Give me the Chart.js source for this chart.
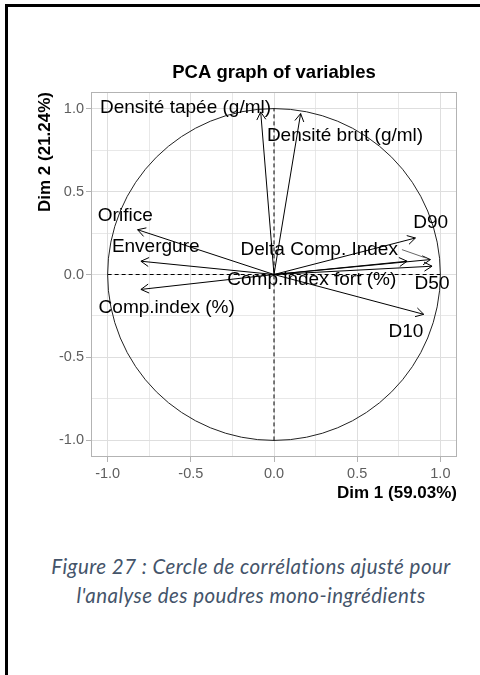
<!DOCTYPE html>
<html>
<head>
<meta charset="utf-8">
<script src="https://cdn.jsdelivr.net/npm/chart.js@4.4.1/dist/chart.umd.min.js"></script>
<style>
  body { margin: 0; background: #fff; width: 480px; height: 675px; overflow: hidden; position: relative; }
  #frame { position: absolute; left: 5px; top: 4px; width: 520px; height: 720px; border-left: 3px solid #000; border-top: 3px solid #000; }
  #wrap { position: absolute; left: 0; top: 0; width: 480px; height: 520px; }
  #caption { position: absolute; left: 11px; top: 552px; width: 480px; text-align: center;
             font-family: Lato, "Open Sans", sans-serif; font-style: italic; font-size: 20.5px;
             letter-spacing: 0.45px; line-height: 29px; color: #44546a; }
</style>
</head>
<body>
<div id="frame"></div>
<div id="wrap"><canvas id="pcaChart" width="480" height="520"></canvas></div>
<div id="caption">Figure 27 : Cercle de corrélations ajusté pour<br>l'analyse des poudres mono-ingrédients</div>
<script>
// variable coordinates on the first two dimensions
const variables = ['Densité tapée (g/ml)', 'Densité brut (g/ml)', 'Orifice', 'Envergure', 'Comp.index (%)',
                   'Delta Comp. Index', 'Comp.index fort (%)', 'D90', 'D50', 'D10'];
const dim1 = [-0.08, 0.16, -0.82, -0.80, -0.80, 0.94, 0.80, 0.85, 0.95, 0.90];
const dim2 = [0.98, 0.97, 0.27, 0.08, -0.09, 0.09, 0.08, 0.22, 0.05, -0.24];

const majorTicks = [-1.0, -0.5, 0.0, 0.5, 1.0];
const minorTicks = [-0.75, -0.25, 0.25, 0.75];

// where the (repelled) text labels sit, in axis units
const labelPlacement = {
    'Densité tapée (g/ml)': [-0.532, 1.006],
    'Densité brut (g/ml)': [0.427, 0.838],
    'Orifice': [-0.894, 0.357],
    'Envergure': [-0.711, 0.166],
    'Comp.index (%)': [-0.645, -0.198],
    'Delta Comp. Index': [0.272, 0.150],
    'Comp.index fort (%)': [0.227, -0.034],
    'D90': [0.942, 0.310],
    'D50': [0.950, -0.054],
    'D10': [0.793, -0.345]
};
const withSegment = ['Delta Comp. Index'];

const FONT = '"Liberation Sans", Arial, sans-serif';
const GRID = '#dedede';
const FRAME = '#b3b3b3';

const isMajor = v => majorTicks.some(m => Math.abs(m - v) < 1e-6);

function axisOptions(title, isX) {
    return {
        type: 'linear',
        min: -1.1,
        max: 1.1,
        afterBuildTicks: scale => {
            scale.ticks = majorTicks.concat(minorTicks).sort((a, b) => a - b).map(v => ({ value: v }));
        },
        afterFit: scale => {
            if (isX) scale.height = 50;
            else scale.width = 91;
        },
        border: { display: false },
        grid: {
            color: GRID,
            lineWidth: ctx => (ctx.tick && isMajor(ctx.tick.value)) ? 1 : 0.7,
            tickColor: ctx => (ctx.tick && isMajor(ctx.tick.value)) ? FRAME : 'rgba(0,0,0,0)',
            tickLength: 5
        },
        ticks: {
            padding: isX ? 3 : 2,
            color: '#5e5e5e',
            font: { family: FONT, size: 14.5 },
            maxRotation: 0,
            autoSkip: false,
            callback: v => isMajor(v) ? v.toFixed(1) : ''
        },
        title: {
            display: true,
            text: title,
            align: 'end',
            color: '#000',
            font: { family: FONT, size: 17, weight: 'bold' },
            padding: isX ? { top: 0, bottom: 3.8 } : { top: 34.8, bottom: 0 }
        }
    };
}

// correlation circle, dashed axes, arrowheads, labels and panel frame
const pcaDecor = {
    id: 'pcaDecor',
    beforeDatasetsDraw(chart) {
        const { ctx, chartArea, scales: { x, y } } = chart;
        const cx = x.getPixelForValue(0), cy = y.getPixelForValue(0);
        const rx = x.getPixelForValue(1) - cx, ry = cy - y.getPixelForValue(1);
        ctx.save();
        ctx.beginPath();
        ctx.rect(chartArea.left, chartArea.top, chartArea.width, chartArea.height);
        ctx.clip();
        ctx.strokeStyle = '#222';
        ctx.lineWidth = 1;
        ctx.beginPath();
        ctx.ellipse(cx, cy, rx, ry, 0, 0, Math.PI * 2);
        ctx.stroke();
        ctx.setLineDash([4, 3]);
        ctx.strokeStyle = '#000';
        ctx.beginPath();
        ctx.moveTo(x.getPixelForValue(-1), cy);
        ctx.lineTo(x.getPixelForValue(1), cy);
        ctx.moveTo(cx, y.getPixelForValue(-1));
        ctx.lineTo(cx, y.getPixelForValue(1));
        ctx.stroke();
        ctx.restore();
    },
    afterDatasetsDraw(chart) {
        const { ctx, chartArea, scales: { x, y } } = chart;
        const ox = x.getPixelForValue(0), oy = y.getPixelForValue(0);
        ctx.save();

        // open arrowheads
        ctx.strokeStyle = '#000';
        ctx.lineWidth = 1;
        variables.forEach((name, i) => {
            const tx = x.getPixelForValue(dim1[i]), ty = y.getPixelForValue(dim2[i]);
            const a = Math.atan2(ty - oy, tx - ox);
            const len = 9, spread = Math.PI / 6;
            ctx.beginPath();
            ctx.moveTo(tx - len * Math.cos(a - spread), ty - len * Math.sin(a - spread));
            ctx.lineTo(tx, ty);
            ctx.lineTo(tx - len * Math.cos(a + spread), ty - len * Math.sin(a + spread));
            ctx.stroke();
        });

        // labels
        ctx.font = '19px ' + FONT;
        ctx.textAlign = 'center';
        ctx.textBaseline = 'middle';
        variables.forEach((name, i) => {
            const [lx, ly] = labelPlacement[name];
            const px = x.getPixelForValue(lx), py = y.getPixelForValue(ly);
            if (withSegment.includes(name)) {
                const tx = x.getPixelForValue(dim1[i]), ty = y.getPixelForValue(dim2[i]);
                const half = ctx.measureText(name).width / 2 + 4;
                const sx = px + half, sy = py;
                const d = Math.hypot(tx - sx, ty - sy);
                ctx.strokeStyle = '#666';
                ctx.beginPath();
                ctx.moveTo(sx, sy);
                ctx.lineTo(sx + (tx - sx) * (d - 5) / d, sy + (ty - sy) * (d - 5) / d);
                ctx.stroke();
            }
            ctx.fillStyle = '#000';
            ctx.fillText(name, px, py);
        });

        // panel frame
        ctx.strokeStyle = FRAME;
        ctx.lineWidth = 1;
        ctx.strokeRect(chartArea.left + 0.5, chartArea.top + 0.5, chartArea.width - 1, chartArea.height - 1);
        ctx.restore();
    }
};

new Chart(document.getElementById('pcaChart'), {
    type: 'scatter',
    data: {
        datasets: variables.map((name, i) => ({
            label: name,
            data: [{ x: 0, y: 0 }, { x: dim1[i], y: dim2[i] }],
            showLine: true,
            borderColor: '#000',
            borderWidth: 1,
            pointRadius: 0
        }))
    },
    options: {
        responsive: false,
        animation: false,
        layout: { padding: { left: 0, right: 23, top: 0, bottom: 13 } },
        scales: {
            x: axisOptions('Dim 1 (59.03%)', true),
            y: axisOptions('Dim 2 (21.24%)', false)
        },
        plugins: {
            legend: { display: false },
            tooltip: { enabled: false },
            title: {
                display: true,
                text: 'PCA graph of variables',
                fullSize: false,
                color: '#000',
                font: { family: FONT, size: 18.5, weight: 'bold' },
                padding: { top: 61.4, bottom: 8.4 }
            }
        }
    },
    plugins: [pcaDecor]
});
</script>
</body>
</html>
